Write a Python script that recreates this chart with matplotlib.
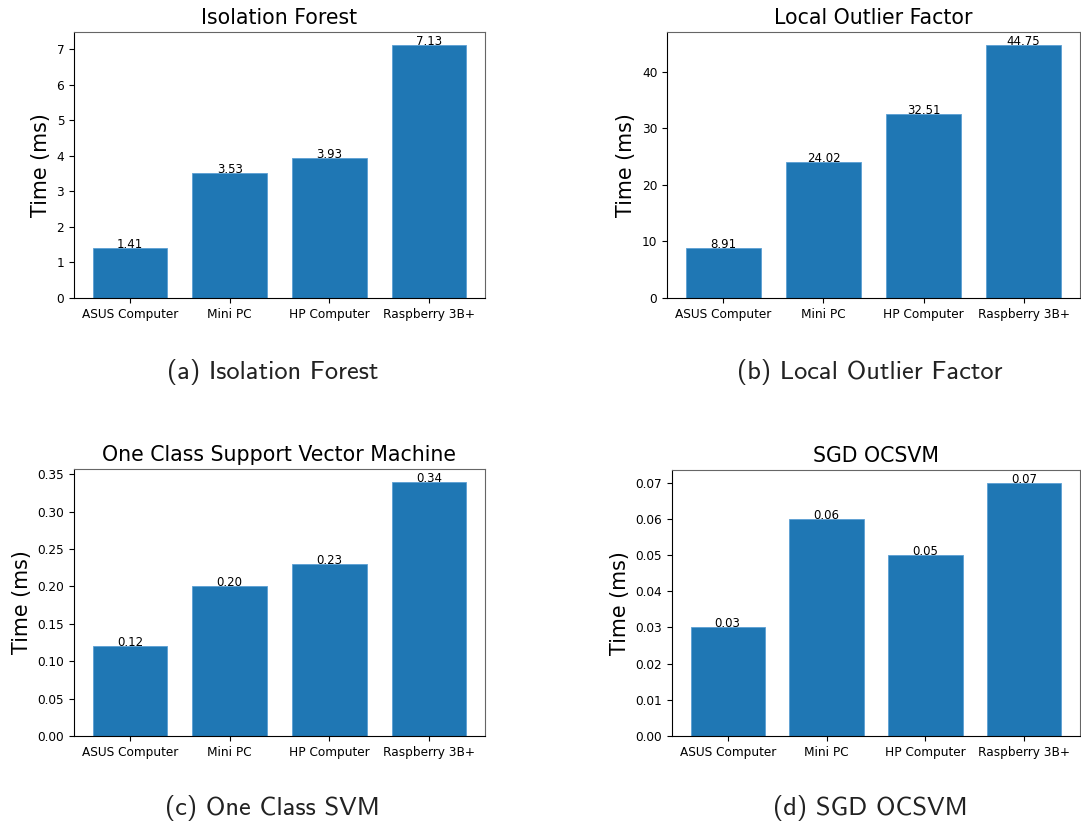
import matplotlib.pyplot as plt

# Inference time per device for each anomaly detector
devices = ['ASUS Computer', 'Mini PC', 'HP Computer', 'Raspberry 3B+']

iso_forest = [1.41, 3.53, 3.93, 7.13]
lof = [8.91, 24.02, 32.51, 44.75]
ocsvm = [0.12, 0.20, 0.23, 0.34]
sgd_ocsvm = [0.03, 0.06, 0.05, 0.07]

titles = ['Isolation Forest', 'Local Outlier Factor',
          'One Class Support Vector Machine', 'SGD OCSVM']
captions = ['(a) Isolation Forest', '(b) Local Outlier Factor',
            '(c) One Class SVM', '(d) SGD OCSVM']

W, H = 1081, 827
fig = plt.figure(figsize=(W / 100, H / 100), dpi=100)

# axes boxes in pixels: left, top, right, bottom
boxes = [(74, 32, 485, 298), (667, 32, 1080, 298),
         (74, 469, 485, 736), (672, 470, 1080, 736)]
caption_pos = [(273, 372), (870, 372), (272, 808), (870, 808)]

for data, title, cap, box, cpos in zip([iso_forest, lof, ocsvm, sgd_ocsvm],
                                       titles, captions, boxes, caption_pos):
    l, t, r, b = box
    ax = fig.add_axes([l / W, 1 - b / H, (r - l) / W, (b - t) / H])
    bars = ax.bar(devices, data, width=0.75, color='#1f77b4',
                  edgecolor='#5b9fd4', linewidth=0.6)
    for bar, v in zip(bars, data):
        ax.text(bar.get_x() + bar.get_width() / 2, v, f'{v:.2f}',
                ha='center', va='baseline', fontsize=8.5)
    ax.set_title(title, fontsize=14.8)
    ax.set_ylabel('Time (ms)', fontsize=14.9)
    ax.tick_params(labelsize=8.75)
    ax.spines['top'].set_color('#666666')
    ax.spines['right'].set_color('#666666')
    fig.text(cpos[0] / W, 1 - cpos[1] / H, cap, ha='center', va='center',
             fontsize=19, family='cmss10', color='#222222')

plt.savefig('out.png', dpi=100)
